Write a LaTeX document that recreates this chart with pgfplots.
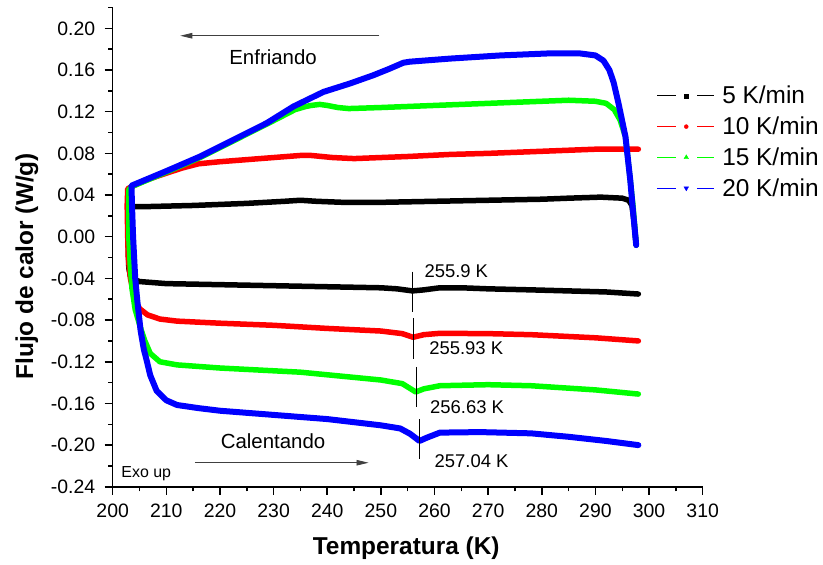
\documentclass[border=0pt]{standalone}
\usepackage{fontspec}
\setmainfont{Liberation Sans}
\usepackage{pgfplots}
\pgfplotsset{compat=1.18}
\usetikzlibrary{arrows.meta}

\begin{document}
\begin{tikzpicture}
\begin{axis}[
  scale only axis,
  width=590bp, height=479.3bp,
  xmin=200, xmax=310, ymin=-0.24, ymax=0.22,
  axis lines*=left,
  axis line style={line width=1.6bp},
  xtick={200,210,220,230,240,250,260,270,280,290,300,310},
  minor xtick={205,215,225,235,245,255,265,275,285,295,305},
  ytick={-0.24,-0.2,-0.16,-0.12,-0.08,-0.04,0,0.04,0.08,0.12,0.16,0.2},
  minor ytick={-0.22,-0.18,-0.14,-0.1,-0.06,-0.02,0.02,0.06,0.1,0.14,0.18,0.22},
  tick align=outside,
  major tick length=8bp, minor tick length=4.5bp,
  every tick/.style={black, line width=1.5bp},
  /pgf/number format/assume math mode=true,
  ticklabel style={font=\fontsize{19.5}{22}\selectfont},
  yticklabel style={xshift=-6bp, /pgf/number format/.cd, fixed, fixed zerofill, precision=2},
  xticklabel style={yshift=-6bp, /pgf/number format/.cd, fixed, precision=0},
  xlabel={\bfseries Temperatura (K)},
  ylabel={\bfseries Flujo de calor (W/g)},
  label style={font=\fontsize{24.5}{28}\selectfont},
  xlabel style={at={(axis description cs:0.4975,-0.1277)}, anchor=center},
  ylabel style={at={(axis description cs:-0.1455,0.46)}, anchor=center},
  legend image code/.code={
    \draw[#1, line width=0.8bp, mark=none] (0bp,1.5bp) -- (18.3bp,1.5bp);
    \draw[#1, line width=0.8bp, mark=none] (40bp,1.5bp) -- (56.6bp,1.5bp);
    \draw[#1] plot coordinates {(29bp,1.5bp)};
  },
  legend cell align=left,
  legend style={draw=none, fill=none, at={(rel axis cs:0.922,0.837)}, anchor=north west,
    inner sep=0pt, font=\fontsize{24.5}{28}\selectfont, row sep=7.8bp,
    nodes={inner sep=0pt, text height=18bp, text depth=5bp},
    /tikz/every odd column/.style={column sep=8bp}},
  clip=false,
]
\addlegendimage{black, mark=square*, mark size=2bp}
\addlegendentry{5 K/min}
\addlegendimage{red, mark=*, mark size=2bp}
\addlegendentry{10 K/min}
\addlegendimage{green, mark=triangle*, mark size=2.6bp}
\addlegendentry{15 K/min}
\addlegendimage{blue, mark=triangle*, mark size=2.6bp, mark options={rotate=180}}
\addlegendentry{20 K/min}

% 5 K/min
\addplot[forget plot, black, line width=5.5bp, line join=round, line cap=round] coordinates {
(297.6,-0.008) (297.2,0.015) (296.8,0.030) (296.2,0.035) (295,0.037) (291,0.038) (285,0.037)
(280,0.036) (270,0.035) (260,0.034) (250,0.033) (243,0.033) (238,0.034) (235,0.035) (232,0.034)
(225,0.032) (215,0.030) (207,0.029) (204,0.029) (203.2,0.029) (202.9,0.020) (202.9,-0.010)
(203.0,-0.030) (203.3,-0.038) (204,-0.041) (205,-0.043) (210,-0.045) (220,-0.046) (230,-0.047)
(240,-0.048) (250,-0.049) (253,-0.050) (255.9,-0.052) (258,-0.051) (261,-0.049) (265,-0.049)
(270,-0.050) (278,-0.051) (285,-0.052) (292,-0.053) (298,-0.055)
};
% 10 K/min
\addplot[forget plot, red, line width=5.5bp, line join=round, line cap=round] coordinates {
(298,0.084) (295,0.084) (290,0.084) (280,0.082) (270,0.080) (263,0.079) (255,0.077) (250,0.076)
(245,0.075) (241,0.076) (237,0.078) (235,0.078) (230,0.076) (225,0.074) (220,0.072) (216,0.070)
(213,0.066) (210,0.061) (206,0.054) (203.5,0.048) (202.8,0.046) (202.7,0.030) (202.8,0.0)
(202.9,-0.02) (203.3,-0.040) (203.8,-0.052) (204.3,-0.062) (205,-0.069) (206.5,-0.075)
(208.8,-0.079) (212,-0.081) (220,-0.083) (230,-0.085) (240,-0.088) (250,-0.0905) (254,-0.093)
(256,-0.0965) (258,-0.094) (261,-0.0927) (270,-0.093) (278,-0.094) (290,-0.097) (298,-0.100)
};
% 15 K/min
\addplot[forget plot, green, line width=5.5bp, line join=round, line cap=round] coordinates {
(297.6,-0.008) (297.0,0.030) (296.5,0.054) (295.6,0.096) (294.6,0.112) (293.5,0.122) (292,0.128)
(290,0.130) (285,0.131) (280,0.130) (270,0.128) (260,0.126) (250,0.124) (244,0.123) (242,0.124)
(240,0.126) (238.6,0.127) (237,0.126) (236,0.125) (234,0.122) (228.7,0.108) (222.5,0.092)
(216.3,0.076) (210,0.062) (203.5,0.048) (203.0,0.045) (203.0,0.0) (203.3,-0.03) (203.6,-0.05)
(204.2,-0.07) (205.1,-0.086) (206,-0.100) (207,-0.112) (208.8,-0.120) (212,-0.123) (220,-0.126)
(235,-0.130) (245,-0.135) (250,-0.1375) (254,-0.141) (256.5,-0.149) (258,-0.146) (261,-0.143)
(270,-0.142) (278,-0.143) (290,-0.147) (298,-0.151)
};
% 20 K/min
\addplot[forget plot, blue, line width=6bp, line join=round, line cap=round] coordinates {
(297.6,-0.008) (297.0,0.025) (296.5,0.054) (295.6,0.096) (294.3,0.128) (293.4,0.148) (292.6,0.160)
(291.5,0.169) (290,0.174) (287,0.176) (281.6,0.176) (272.3,0.174) (263,0.171) (255.4,0.168)
(254.2,0.167) (251.5,0.161) (248.6,0.155) (244.2,0.147) (239.3,0.139) (233.7,0.125) (228.7,0.109)
(222.5,0.093) (216.3,0.077) (210,0.063) (203.5,0.049) (203.6,0.030) (203.8,0.0) (204.2,-0.040)
(204.6,-0.062) (205.2,-0.090) (205.8,-0.108) (206.3,-0.118) (207,-0.133) (208.2,-0.148)
(210,-0.157) (212,-0.1615) (216,-0.1645) (220,-0.167) (230,-0.171) (240,-0.175) (250,-0.181)
(253.6,-0.184) (255.4,-0.189) (257.2,-0.196) (258.5,-0.193) (261,-0.188) (268.5,-0.1875)
(278,-0.1887) (285,-0.192) (292,-0.196) (298,-0.200)
};

% transition markers
\draw[line width=0.7bp] (axis cs:255.85,-0.0336) -- (axis cs:255.85,-0.072);
\draw[line width=0.7bp] (axis cs:256.05,-0.078) -- (axis cs:256.05,-0.1177);
\draw[line width=0.7bp] (axis cs:256.6,-0.1248) -- (axis cs:256.6,-0.1637);
\draw[line width=0.7bp] (axis cs:257.16,-0.1752) -- (axis cs:257.16,-0.2136);
\begin{scope}[every node/.style={font=\fontsize{18.5}{21}\selectfont, inner sep=0pt, anchor=west}]
\node at (axis cs:258.1,-0.0326) {255.9 K};
\node at (axis cs:259.0,-0.107) {255.93 K};
\node at (axis cs:259.15,-0.1637) {256.63 K};
\node at (axis cs:260.0,-0.215) {257.04 K};
\end{scope}
% arrows and texts
\draw[line width=0.8bp, black!75, -{Triangle[length=12bp,width=5.5bp]}] (axis cs:249.7,0.1929) -- (axis cs:212.6,0.1929);
\draw[line width=0.8bp, black!75, -{Triangle[length=12bp,width=5.5bp]}] (axis cs:215.3,-0.2169) -- (axis cs:247.7,-0.2169);
\node[font=\fontsize{20.5}{24}\selectfont, inner sep=0pt] at (axis cs:229.9,0.1727) {Enfriando};
\node[font=\fontsize{20.5}{24}\selectfont, inner sep=0pt] at (axis cs:229.9,-0.1958) {Calentando};
\node[font=\fontsize{16}{19}\selectfont, inner sep=0pt, anchor=west] at (axis cs:201.6,-0.227) {Exo up};
\coordinate (o) at (rel axis cs:0,0);
\end{axis}
\pgfresetboundingbox
\path ([xshift=-112.7bp,yshift=-78.2bp]o) rectangle ++(823bp,565bp);
\end{tikzpicture}
\end{document}
